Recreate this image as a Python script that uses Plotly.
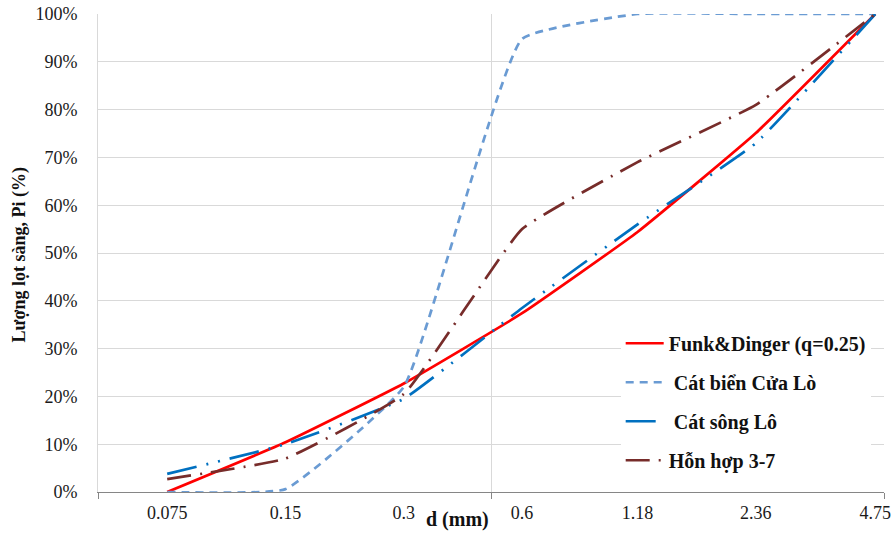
import plotly.graph_objects as go

d_mm = [0.075, 0.15, 0.3, 0.6, 1.18, 2.36, 4.75]
tick_labels = ["0.075", "0.15", "0.3", "0.6", "1.18", "2.36", "4.75"]

funk_dinger = [0.0, 10.4, 22.7, 37.4, 54.4, 75.1, 100.0]
cat_bien_cua_lo = [0.0, 0.6, 22.0, 94.8, 100.0, 100.0, 100.0]
cat_song_lo = [3.8, 10.0, 19.5, 38.5, 56.0, 73.0, 100.0]
hon_hop_37 = [2.7, 7.0, 20.5, 55.0, 69.0, 81.0, 100.0]

y_ticks = list(range(0, 101, 10))
y_tick_text = [f"{v}%" for v in y_ticks]

FONT = "Liberation Serif"

series = [
    ("Funk&Dinger (q=0.25)", funk_dinger, "#FF0000", "solid"),
    ("\u00a0Cát biển Cửa Lò", cat_bien_cua_lo, "#6A9BD3", "8px,6px"),
    ("\u00a0Cát sông Lô", cat_song_lo, "#0070C0", "30px,10px,2px,10px,2px,10px"),
    ("Hỗn hợp 3-7", hon_hop_37, "#772C2A", "24px,9px,2px,9px"),
]

fig = go.Figure()
for i, (name, vals, color, dash) in enumerate(series):
    fig.add_trace(go.Scatter(
        x=d_mm, y=vals, name=name, mode="lines",
        line=dict(color=color, width=2.7, dash=dash, shape="spline", smoothing=0.35),
        legendgroup=f"g{i}",
    ))

fig.update_layout(
    width=894, height=533,
    margin=dict(l=98, r=10, t=14, b=41, autoexpand=False),
    paper_bgcolor="white", plot_bgcolor="white",
    font=dict(family=FONT, size=18, color="#1a1a1a"),
    showlegend=True,
    legend=dict(
        x=0.665, y=0.352, xanchor="left", yanchor="top",
        bgcolor="white", borderwidth=0,
        font=dict(family=FONT, size=20, color="#111111", weight="bold"),
        tracegroupgap=10, itemwidth=38,
    ),
    xaxis=dict(
        type="log", automargin=False,
        range=[-1.30103, 0.69897],
        tickmode="array", tickvals=d_mm, ticktext=tick_labels,
        ticks="", showgrid=False, zeroline=False,
        showline=True, linecolor="#868686", linewidth=1,
        ticklabelstandoff=4, ticklabeloverflow="allow",
        tickfont=dict(family=FONT, size=18, color="#1a1a1a"),
        minor=dict(tickmode="array", tickvals=[0.05, 0.5, 5], ticks="outside",
                   ticklen=6, tickcolor="#868686", showgrid=True,
                   gridcolor="#D9D9D9", gridwidth=1),
    ),
    yaxis=dict(
        automargin=False,
        range=[0, 100], tickmode="array", tickvals=y_ticks, ticktext=y_tick_text,
        showgrid=True, gridcolor="#D9D9D9", gridwidth=1,
        zeroline=False, showline=True, linecolor="#D9D9D9", linewidth=1,
        ticks="", ticklabelstandoff=16, ticklabeloverflow="allow",
        tickfont=dict(family=FONT, size=18, color="#1a1a1a"),
    ),
    annotations=[
        dict(text="d (mm)", xref="paper", yref="paper", x=0.457, y=-0.058,
             xanchor="center", yanchor="middle", showarrow=False,
             font=dict(family=FONT, size=20, color="#111111", weight="bold")),
        dict(text="Lượng lọt sàng, Pi (%)", xref="paper", yref="paper",
             x=-0.1005, y=0.495, xanchor="center", yanchor="middle",
             textangle=-90, showarrow=False,
             font=dict(family=FONT, size=18, color="#111111", weight="bold")),
    ],
)

fig.write_html("out.html", config={"displayModeBar": False},
               post_script="document.body.style.margin='0';")
